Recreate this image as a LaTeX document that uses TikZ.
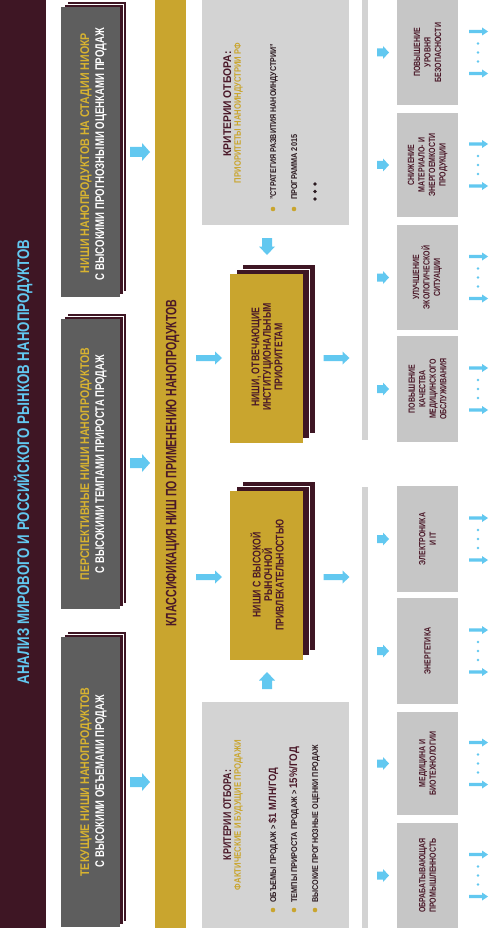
\documentclass[tikz,border=0pt]{standalone}
\usepackage{fontspec}
\setmainfont{Liberation Sans}[FakeStretch=0.78]
\usepackage{graphicx}
\definecolor{maroonbg}{HTML}{3E1624}
\definecolor{dgrey}{HTML}{5E5E5E}
\definecolor{gold}{HTML}{C9A52E}
\definecolor{lgrey}{HTML}{D3D3D3}
\definecolor{cgrey}{HTML}{C6C6C6}
\definecolor{skyb}{HTML}{62C8F0}
\definecolor{ytext}{HTML}{D8B330}
\definecolor{mtext}{HTML}{4A1828}
\definecolor{itemc}{HTML}{2B1A20}
\newcommand{\fw}[2]{\resizebox{#1pt}{\height}{#2}}
\tikzset{
  rt/.style={rotate=90, inner sep=0pt, text depth=0pt},
  titletxt/.style={rt, text=skyb, font=\bfseries\fontsize{16.8}{18}\selectfont, text height=12pt},
  ylw/.style={rt, text=ytext, font=\bfseries\fontsize{12.6}{14}\selectfont, text height=9pt},
  wht/.style={rt, text=white, font=\bfseries\fontsize{12.6}{14}\selectfont, text height=9pt},
  bandtxt/.style={rt, text=mtext, font=\bfseries\fontsize{15}{16}\selectfont, text height=10.7pt},
  goldtxt/.style={rotate=90, align=center, inner sep=0pt, text=mtext, font=\bfseries\fontsize{11.2}{11.5}\selectfont},
  crith/.style={rt, text=mtext, font=\bfseries\fontsize{11.2}{12}\selectfont, text height=8pt},
  crits/.style={rt, text=gold, font=\bfseries\fontsize{9.4}{10}\selectfont, text height=6.7pt},
  itemtxt/.style={rt, anchor=west, text=itemc, font=\bfseries\fontsize{8.4}{9}\selectfont, text height=6pt},
  cattxt/.style={rotate=90, align=center, inner sep=0pt, text=mtext, font=\bfseries\fontsize{9}{10.5}\selectfont},
  shadowlayer/.style={fill=maroonbg, draw=white, line width=0.7pt},
  bigarr/.pic={\fill[skyb] (-10,-5) -- (2,-5) -- (2,-9) -- (10,0) -- (2,9) -- (2,5) -- (-10,5) -- cycle;},
  medarr/.pic={\fill[skyb] (-13,-3) -- (6,-3) -- (6,-6.5) -- (13,0) -- (6,6.5) -- (6,3) -- (-13,3) -- cycle;},
  vertarr/.pic={\fill[skyb] (-8.5,-5) -- (0,-5) -- (0,-8) -- (8.5,0) -- (0,8) -- (0,5) -- (-8.5,5) -- cycle;},
  smarr/.pic={\fill[skyb] (-6,-4) -- (0,-4) -- (0,-6.5) -- (6,0) -- (0,6.5) -- (0,4) -- (-6,4) -- cycle;},
  tinyarr/.pic={\fill[skyb] (-9.5,-1.6) -- (3.5,-1.6) -- (3.5,-4) -- (9.5,0) -- (3.5,4) -- (3.5,1.6) -- (-9.5,1.6) -- cycle;},
}
\begin{document}
\begin{tikzpicture}[x=1pt,y=-1pt]
\useasboundingbox (0,0) rectangle (489,928);
\fill[white] (0,0) rectangle (489,928);
% left maroon band
\fill[maroonbg] (0,0) rectangle (46,928);
\node[titletxt] (title) at (23,462) {\fw{445}{АНАЛИЗ МИРОВОГО И РОССИЙСКОГО РЫНКОВ НАНОПРОДУКТОВ}};
% dark grey boxes
\foreach \ya/\yb in {7/297, 319/609, 637/927} {
  \filldraw[shadowlayer] (67,\ya-6) rectangle (126,\yb-6);
  \filldraw[shadowlayer] (64,\ya-3) rectangle (123,\yb-3);
  \fill[dgrey] (61,\ya) rectangle (120,\yb);
}
\node[ylw] (n1a) at (84.5,153) {\fw{240}{НИШИ НАНОПРОДУКТОВ НА СТАДИИ НИОКР}};
\node[wht] (n1b) at (99.5,154) {\fw{252}{С ВЫСОКИМИ ПРОГНОЗНЫМИ ОЦЕНКАМИ ПРОДАЖ}};
\node[ylw] (n2a) at (84.5,464) {\fw{232}{ПЕРСПЕКТИВНЫЕ НИШИ НАНОПРОДУКТОВ}};
\node[wht] (n2b) at (99.5,464) {\fw{218}{С ВЫСОКИМИ ТЕМПАМИ ПРИРОСТА ПРОДАЖ}};
\node[ylw] (n3a) at (84.5,782) {\fw{189}{ТЕКУЩИЕ НИШИ НАНОПРОДУКТОВ}};
\node[wht] (n3b) at (99.5,781) {\fw{172}{С ВЫСОКИМИ ОБЪЕМАМИ ПРОДАЖ}};
\pic at (140,152) {bigarr};
\pic at (140,463) {bigarr};
\pic at (140,782) {bigarr};
% gold band
\fill[gold] (155,0) rectangle (186,928);
\node[bandtxt] (cls) at (171,463) {\fw{327}{КЛАССИФИКАЦИЯ НИШ ПО ПРИМЕНЕНИЮ НАНОПРОДУКТОВ}};
\pic at (209,358) {medarr};
\pic at (209,577) {medarr};
% criteria boxes
\fill[lgrey] (202,0) rectangle (349,225);
\fill[lgrey] (202,702) rectangle (349,928);
\node[crith] (c1h) at (227,104) {\fw{105}{КРИТЕРИИ ОТБОРА:}};
\node[crits] (c1s) at (237.5,113) {\fw{140}{ПРИОРИТЕТЫ НАНОИНДУСТРИИ РФ}};
\fill[gold] (273,209) circle (2.3);
\fill[gold] (294,209) circle (2.3);
\node[itemtxt] (c1i1) at (273,200) {\fw{156}{"СТРАТЕГИЯ РАЗВИТИЯ НАНОИНДУСТРИИ"}};
\node[itemtxt] (c1i2) at (294,200) {\fw{65}{ПРОГРАММА 2015}};
\foreach \yy in {184,191.5,199} \fill[itemc] (315,\yy) circle (1.9);
\node[crith] (c2h) at (227,815) {\fw{90}{КРИТЕРИИ ОТБОРА:}};
\node[crits] (c2s) at (237.5,815) {\fw{150}{ФАКТИЧЕСКИЕ И БУДУЩИЕ ПРОДАЖИ}};
\fill[gold] (273,910) circle (2.3);
\fill[gold] (294,910) circle (2.3);
\fill[gold] (315,910) circle (2.3);
\node[itemtxt] (c2i1) at (273,903) {\fw{135}{ОБЪЕМЫ ПРОДАЖ > {\color{mtext}\fontsize{10.5}{11}\selectfont\$1 МЛН/ГОД}}};
\node[itemtxt] (c2i2) at (294,903) {\fw{156}{ТЕМПЫ ПРИРОСТА ПРОДАЖ > {\color{mtext}\fontsize{11}{11}\selectfont 15\%/ГОД}}};
\node[itemtxt] (c2i3) at (315,903) {\fw{158}{ВЫСОКИЕ ПРОГНОЗНЫЕ ОЦЕНКИ ПРОДАЖ}};
% gold boxes
\foreach \ya/\yb in {274/443, 491/660} {
  \filldraw[shadowlayer] (242,\ya-10) rectangle (315,\yb-10);
  \filldraw[shadowlayer] (236,\ya-5) rectangle (309,\yb-5);
  \fill[gold] (230,\ya) rectangle (303,\yb);
}
\node[goldtxt] (g1) at (267,357) {НИШИ, ОТВЕЧАЮЩИЕ\\ИНСТИТУЦИОНАЛЬНЫМ\\ПРИОРИТЕТАМ};
\node[goldtxt] (g2) at (267,575) {НИШИ С ВЫСОКОЙ\\РЫНОЧНОЙ\\ПРИВЛЕКАТЕЛЬНОСТЬЮ};
\pic[rotate=-90] at (267,246.5) {vertarr};
\pic[rotate=90] at (267,680.5) {vertarr};
\pic at (336.5,358) {medarr};
\pic at (336.5,577) {medarr};
% brackets
\fill[lgrey] (362,0) rectangle (368,440);
\fill[lgrey] (362,487) rectangle (368,928);
% category boxes
\foreach \ya/\yb in {0/105, 113/217, 225/330, 336/442, 486/592, 598/704, 712/815, 823/928} {
  \fill[cgrey] (397,\ya) rectangle (458,\yb);
  \pic at (383,{(\ya+\yb)/2}) {smarr};
  \pic at (478.5,{(\ya+\yb)/2-21}) {tinyarr};
  \pic at (478.5,{(\ya+\yb)/2+21}) {tinyarr};
  \foreach \dd in {-9,0,9} \fill[skyb] (478,{(\ya+\yb)/2+\dd}) circle (1.3);
}
\node[cattxt] (k1) at (427.5,52.5) {ПОВЫШЕНИЕ\\УРОВНЯ\\БЕЗОПАСНОСТИ};
\node[cattxt] (k2) at (427.5,165) {СНИЖЕНИЕ\\МАТЕРИАЛО- И\\ЭНЕРГОЕМКОСТИ\\ПРОДУКЦИИ};
\node[cattxt] (k3) at (427.5,277.5) {УЛУЧШЕНИЕ\\ЭКОЛОГИЧЕСКОЙ\\СИТУАЦИИ};
\node[cattxt] (k4) at (427.5,389) {ПОВЫШЕНИЕ\\КАЧЕСТВА\\МЕДИЦИНСКОГО\\ОБСЛУЖИВАНИЯ};
\node[cattxt] (k5) at (427.5,539) {ЭЛЕКТРОНИКА\\И IT};
\node[cattxt] (k6) at (427.5,651) {ЭНЕРГЕТИКА};
\node[cattxt] (k7) at (427.5,763.5) {МЕДИЦИНА И\\БИОТЕХНОЛОГИИ};
\node[cattxt] (k8) at (427.5,875.5) {ОБРАБАТЫВАЮЩАЯ\\ПРОМЫШЛЕННОСТЬ};
\end{tikzpicture}
\end{document}
